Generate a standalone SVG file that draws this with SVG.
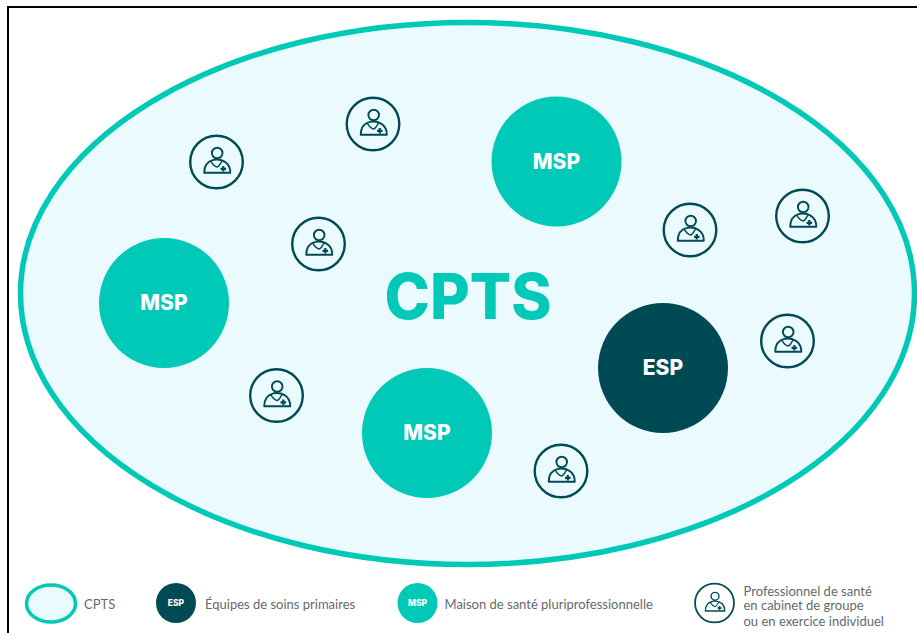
<svg xmlns="http://www.w3.org/2000/svg" xmlns:xlink="http://www.w3.org/1999/xlink" width="917" height="633" viewBox="0 0 917 633">
<style>
.msp{fill:#00c9b7}
.esp{fill:#004a55}
.lbl{font-family:"Inter","Open Sans",sans-serif;font-weight:800;fill:#fff;text-anchor:middle}
.big{font-size:21px}
.small{font-size:8.5px}
.leg{font-family:"Lato","Open Sans",sans-serif;font-size:13px;fill:#5f6b6d}
.ln{fill:none;stroke:#004a55}
</style>
<defs>
<g id="pro">
<circle r="26.3" fill="none" stroke="#004a55" stroke-width="2.4"/>
<circle cx="0.7" cy="-9" r="5.3" class="ln" stroke-width="1.9"/>
<path d="M-12.3 10.8C-12.3 3-8-1-3-2.2 4-3.5 13.8-0.5 13.8 10.8Z" class="ln" stroke-width="1.9" stroke-linejoin="round"/>
<path d="M-6-1.2C-3.5 3-1.5 4.5 0.7 5 3 4.5 5-0.5 6-1.6" class="ln" stroke-width="1.4"/>
<path d="M6.8 4V9.6M4 6.8H9.6" class="ln" stroke-width="2.2"/>
</g>
</defs>
<rect width="917" height="633" fill="#fff"/>
<path id="frame" d="M8 633V7H917" fill="none" stroke="#000" stroke-width="2"/>
<g id="cpts">
<ellipse cx="467.5" cy="293.5" rx="447" ry="271" fill="#eafaff" stroke="#00c9b7" stroke-width="5.5"/>
<text x="468" y="319" font-family="Inter,'Open Sans',sans-serif" font-weight="800" font-size="63" fill="#00c9b7" text-anchor="middle" textLength="167" lengthAdjust="spacingAndGlyphs">CPTS</text>
</g>
<g id="msp1"><circle class="msp" cx="556.5" cy="161.5" r="65"/><text class="lbl big" x="556.5" y="169">MSP</text></g>
<g id="msp2"><circle class="msp" cx="164" cy="303" r="65"/><text class="lbl big" x="164" y="310">MSP</text></g>
<g id="msp3"><circle class="msp" cx="427" cy="433" r="65"/><text class="lbl big" x="427" y="440">MSP</text></g>
<g id="esp1"><circle class="esp" cx="663" cy="368" r="65"/><text class="lbl big" x="663" y="375">ESP</text></g>
<g id="pro1"><use xlink:href="#pro" href="#pro" x="216.5" y="162"/></g>
<g id="pro2"><use xlink:href="#pro" href="#pro" x="373" y="124"/></g>
<g id="pro3"><use xlink:href="#pro" href="#pro" x="318.5" y="244"/></g>
<g id="pro4"><use xlink:href="#pro" href="#pro" x="276.5" y="395.5"/></g>
<g id="pro5"><use xlink:href="#pro" href="#pro" x="561" y="471"/></g>
<g id="pro6"><use xlink:href="#pro" href="#pro" x="690" y="230"/></g>
<g id="pro7"><use xlink:href="#pro" href="#pro" x="802.5" y="216"/></g>
<g id="pro8"><use xlink:href="#pro" href="#pro" x="787.5" y="341"/></g>
<g id="legend">
<g id="leg-cpts"><ellipse cx="51" cy="603.5" rx="24.5" ry="18.5" fill="#eafaff" stroke="#00c9b7" stroke-width="3.5"/><text class="leg" x="84" y="608.5">CPTS</text></g>
<g id="leg-esp"><circle class="esp" cx="176" cy="603" r="20"/><text class="lbl small" x="176" y="606">ESP</text><text class="leg" x="205" y="608.5">Équipes de soins primaires</text></g>
<g id="leg-msp"><circle class="msp" cx="417.5" cy="603" r="20"/><text class="lbl small" x="417.5" y="606">MSP</text><text class="leg" x="444.5" y="608.5">Maison de santé pluriprofessionnelle</text></g>
<g id="leg-pro"><use xlink:href="#pro" href="#pro" transform="translate(714.5 603) scale(0.74)"/><text class="leg" x="743.5" y="595.5">Professionnel de santé</text><text class="leg" x="743.5" y="610">en cabinet de groupe</text><text class="leg" x="743.5" y="625.5">ou en exercice individuel</text></g>
</g>
</svg>
